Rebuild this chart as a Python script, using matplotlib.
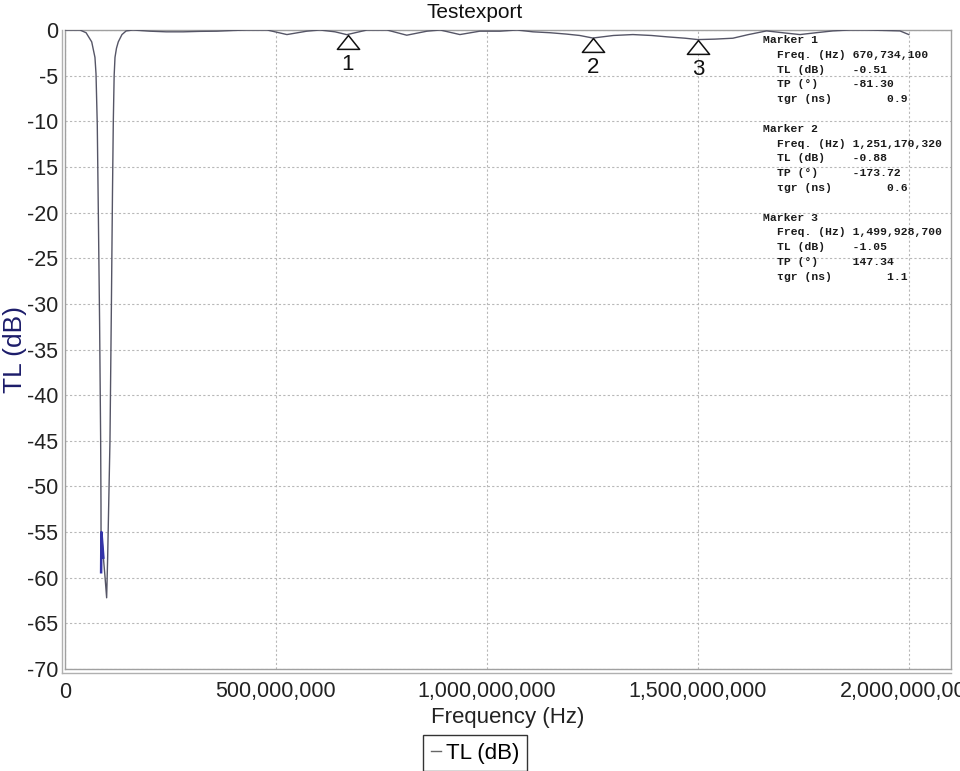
import matplotlib
matplotlib.use("Agg")
import matplotlib.pyplot as plt
import numpy as np
from matplotlib.path import Path
from matplotlib.ticker import FuncFormatter

# ---------------- data ----------------
freq_mhz = [0, 20, 35.5, 50, 63.3, 71, 73.5, 76.5, 79, 82, 84.5, 85.3, 85.6, 86.3,
            88, 91, 95, 98.7, 101, 104, 106.6, 110, 112.5, 114.5, 116.5, 118.5, 122,
            126.3, 135, 145, 161, 201, 240, 280, 320, 360, 400, 431, 479, 526, 573,
            604, 640, 668, 716, 763, 810, 858, 889, 936, 983, 1031, 1071, 1109, 1150,
            1189, 1220, 1251, 1300, 1346, 1390, 1427, 1470, 1500, 1540, 1583, 1620,
            1663, 1701, 1742, 1780, 1820, 1860, 1900, 1940, 1979, 2000]
tl_db = [0.0, 0.0, 0.0, -0.3, -1.3, -3.0, -4.8, -10.4, -20.0, -32.0, -45.0, -52.0,
         -59.4, -55.0, -56.0, -57.8, -60.0, -62.2, -58.0, -51.0, -45.0, -30.0, -18.0,
         -10.0, -5.0, -3.0, -2.0, -1.3, -0.5, -0.1, 0.0, -0.13, -0.2, -0.2, -0.15,
         -0.13, -0.05, 0.0, 0.0, -0.5, -0.13, 0.0, -0.2, -0.51, 0.0, 0.0, -0.57,
         -0.13, 0.0, -0.5, -0.13, -0.13, 0.0, -0.2, -0.3, -0.45, -0.6, -0.88, -0.6,
         -0.5, -0.6, -0.75, -0.9, -1.05, -1.0, -0.9, -0.5, -0.1, -0.3, -0.5, -0.3,
         -0.1, 0.0, 0.0, -0.05, -0.1, -0.5]

marker_ids = ["1", "2", "3"]
marker_freq_hz = [670734100, 1251170320, 1499928700]
marker_tl = [-0.51, -0.88, -1.05]
marker_tp = [-81.30, -173.72, 147.34]
marker_tgr = [0.9, 0.6, 1.1]

x_ticks = [0, 500e6, 1000e6, 1500e6, 2000e6]
y_ticks = list(range(0, -75, -5))

# ---------------- figure ----------------
fig = plt.figure(figsize=(9.6, 7.71), dpi=100)
L, R, T, B = 65, 951, 30, 669
W, H = 960, 771
ax = fig.add_axes([L / W, 1 - B / H, (R - L) / W, (B - T) / H])

f_hz = np.array(freq_mhz) * 1e6
tl = np.array(tl_db)
ax.plot(f_hz, tl, color="#555566", lw=1.0, zorder=3, label="TL (dB)")
mask = (f_hz >= 85.6e6) & (f_hz <= 91e6)
ax.plot(f_hz[mask], tl[mask], color="#3434a8", lw=1.8, zorder=4)

ax.set_xlim(0, 2.1e9)
ax.set_ylim(-70, 0)
ax.set_xticks(x_ticks)
ax.set_yticks(y_ticks)
ax.xaxis.set_major_formatter(FuncFormatter(lambda v, p: f"{int(round(v)):,}"))
ax.yaxis.set_major_formatter(FuncFormatter(lambda v, p: f"{int(v)}"))
ax.tick_params(axis="both", length=0, labelsize=15.5, labelcolor="#222222")
ax.tick_params(axis="x", pad=9)
ax.tick_params(axis="y", pad=5)
for lab in ax.get_xticklabels() + ax.get_yticklabels():
    lab.set_fontfamily("Liberation Sans")

ax.grid(True, color="#b8b8b8", linestyle=(0, (2, 2)), lw=0.8)
for s in ax.spines.values():
    s.set_color("#a0a0a0")
    s.set_linewidth(1.0)

# double border (outer line) on left and bottom
ax.plot([-3 / (R - L), -3 / (R - L)], [-4 / (B - T), 1], transform=ax.transAxes,
        color="#b0b0b0", lw=1.0, clip_on=False)
ax.plot([-3 / (R - L), 1], [-4 / (B - T), -4 / (B - T)], transform=ax.transAxes,
        color="#b0b0b0", lw=1.0, clip_on=False)

# markers: triangle with apex at the trace value
tri = Path([(0, 0), (-1, -1.25), (1, -1.25), (0, 0)],
           [Path.MOVETO, Path.LINETO, Path.LINETO, Path.CLOSEPOLY])
for mid, mf, mt in zip(marker_ids, marker_freq_hz, marker_tl):
    ax.plot([mf], [mt], marker=tri, markersize=20, markerfacecolor="white",
            markeredgecolor="#111111", markeredgewidth=1.1, zorder=6, linestyle="none")
    ax.annotate(mid, (mf, mt), xytext=(0, -21.5), textcoords="offset points",
                ha="center", va="center", fontsize=16, family="Liberation Sans",
                color="#111111", zorder=7)

# marker info text
mono = ["Liberation Mono", "DejaVu Sans Mono"]
y0 = 40
dy = 14.8
for i, (mid, mf, mt, mp, mg) in enumerate(zip(marker_ids, marker_freq_hz, marker_tl,
                                               marker_tp, marker_tgr)):
    base = y0 + i * 6 * dy
    lines = [
        (763, f"Marker {mid}"),
        (777, f"{'Freq. (Hz)':<11}{mf:,}"),
        (777, f"{'TL (dB)':<11}{mt:.2f}"),
        (777, f"{'TP (°)':<11}{mp:.2f}"),
        (777, f"{'τgr (ns)':<16}{mg:.1f}"),
    ]
    for j, (xp, s) in enumerate(lines):
        fig.text(xp / W, 1 - (base + j * dy) / H, s, family=mono, fontsize=8.2,
                 fontweight="bold", color="#1a1a1a", ha="left", va="center")

# titles and labels
fig.text(475 / W, 1 - 12 / H, "Testexport", ha="center", va="center",
         fontsize=15, family="Liberation Sans", color="#111111")
ax.set_xlabel("Frequency (Hz)", fontsize=16, family="Liberation Sans",
              color="#222222", labelpad=3.5)
ax.set_ylabel("TL (dB)", fontsize=19, family="Liberation Sans", color="#1c1c6a",
              va="center", ha="center")
ax.yaxis.set_label_coords((15 - L) / (R - L), 0.5)

leg = fig.legend(loc="center", bbox_to_anchor=(475 / W, 1 - 753 / H),
                 handlelength=0.45, handletextpad=0.25, borderpad=0.35,
                 fancybox=False, framealpha=1, edgecolor="#333333",
                 prop={"family": "Liberation Sans", "size": 16})
leg.get_frame().set_linewidth(1.0)
leg.get_lines()[0].set_color("#666666")

fig.savefig("out.png", dpi=100)
